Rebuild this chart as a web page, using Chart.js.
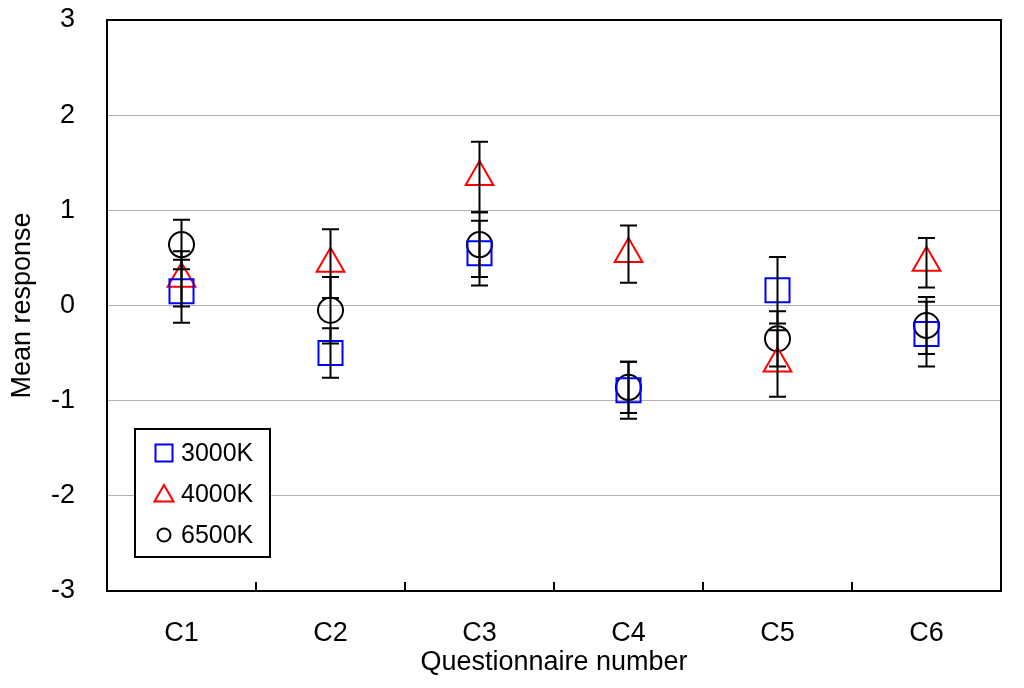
<!DOCTYPE html>
<html><head><meta charset="utf-8">
<script src="https://cdn.jsdelivr.net/npm/chart.js@4/dist/chart.umd.min.js"></script>
<style>html,body{margin:0;padding:0;background:#fff}#wrap{width:1024px;height:688px;position:relative}</style>
</head><body><div id="wrap"><canvas id="c"></canvas></div>
<script>
const categories = ['C1','C2','C3','C4','C5','C6'];
const yTicks = [-3,-2,-1,0,1,2,3];
const seriesNames = ['3000K','4000K','6500K'];
const mean3000 = [0.15,-0.50,0.55,-0.89,0.16,-0.30];
const err3000  = [0.33,0.26,0.34,0.30,0.35,0.34];
const mean4000 = [0.28,0.44,1.35,0.54,-0.61,0.45];
const err4000  = [0.29,0.36,0.37,0.30,0.35,0.26];
const mean6500 = [0.64,-0.05,0.64,-0.86,-0.35,-0.21];
const err6500  = [0.26,0.35,0.34,0.27,0.29,0.30];

const FONT = "'Liberation Sans', Arial, sans-serif";
const styles = [
  {color:'#0000ff', pointStyle:'rect', radius:17, legendRadius:12},
  {color:'#ff0000', pointStyle:'triangle', radius:16, legendRadius:11},
  {color:'#000000', pointStyle:'circle', radius:12.5, legendRadius:6.5}
];
const means = [mean3000, mean4000, mean6500];
const errs = [err3000, err4000, err6500];

const datasets = seriesNames.map((n,i)=>({
  label:n, data:means[i], errors:errs[i],
  showLine:false, pointStyle:styles[i].pointStyle, pointRadius:styles[i].radius,
  pointHoverRadius:styles[i].radius,
  pointBorderColor:styles[i].color, pointBackgroundColor:'rgba(0,0,0,0)', pointBorderWidth:2,
  borderColor:styles[i].color, backgroundColor:'rgba(0,0,0,0)'
}));

const errBars = {id:'errBars', afterDatasetsDraw(chart){
  const ctx=chart.ctx, ys=chart.scales.y;
  ctx.save(); ctx.strokeStyle='#000'; ctx.lineWidth=2;
  chart.data.datasets.forEach((ds,i)=>{
    chart.getDatasetMeta(i).data.forEach((pt,j)=>{
      const m=ds.data[j], e=ds.errors[j], x=pt.x;
      const y1=ys.getPixelForValue(m+e), y2=ys.getPixelForValue(m-e);
      ctx.beginPath();
      ctx.moveTo(x,y1); ctx.lineTo(x,y2);
      ctx.moveTo(x-8.5,y1); ctx.lineTo(x+8.5,y1);
      ctx.moveTo(x-8.5,y2); ctx.lineTo(x+8.5,y2);
      ctx.stroke();
    });
  });
  ctx.restore();
}};

const frame = {id:'frame', afterDraw(chart){
  const ctx=chart.ctx, a=chart.chartArea, xs=chart.scales.x;
  ctx.save();
  ctx.strokeStyle='#000'; ctx.lineWidth=2;
  ctx.strokeRect(a.left, a.top, a.right-a.left, a.bottom-a.top);
  ctx.beginPath();
  for(let k=0;k<categories.length-1;k++){
    const x=(xs.getPixelForValue(k)+xs.getPixelForValue(k+1))/2;
    ctx.moveTo(x,a.bottom); ctx.lineTo(x,a.bottom-9);
  }
  ctx.stroke();
  const lx=a.left+28, ly=a.bottom-162, lw=135, lh=128;
  ctx.fillStyle='#fff'; ctx.fillRect(lx,ly,lw,lh);
  ctx.strokeRect(lx,ly,lw,lh);
  ctx.font='25px '+FONT; ctx.textBaseline='middle'; ctx.textAlign='left';
  seriesNames.forEach((n,i)=>{
    const cy=ly+24+i*41;
    ctx.strokeStyle=styles[i].color; ctx.fillStyle='rgba(0,0,0,0)'; ctx.lineWidth=2;
    Chart.helpers.drawPoint(ctx,{pointStyle:styles[i].pointStyle, radius:styles[i].legendRadius, rotation:0, borderWidth:2}, lx+29, cy + (i===1?2:0));
    ctx.fillStyle='#000';
    ctx.fillText(n, lx+46, cy+1);
  });
  ctx.restore();
}};

new Chart(document.getElementById('c'), {
  type:'line',
  data:{labels:categories, datasets},
  options:{
    responsive:true, maintainAspectRatio:false, animation:false,
    devicePixelRatio:1,
    layout:{padding:{left:0,right:23,top:20,bottom:0}},
    plugins:{legend:{display:false}, tooltip:{enabled:false}},
    scales:{
      x:{type:'category', offset:true,
        grid:{display:false, drawTicks:false},
        border:{display:false},
        ticks:{color:'#000', font:{family:FONT,size:27}, padding:26},
        title:{display:true, text:'Questionnaire number', color:'#000', font:{family:FONT,size:27}, padding:{top:2,bottom:9}},
        afterFit(s){ s.height=97; s.paddingLeft=0; s.paddingRight=0; }
      },
      y:{min:-3, max:3,
        afterBuildTicks(s){ s.ticks = yTicks.map(v=>({value:v})); },
        grid:{color:'#b0b0b0', lineWidth:1, drawTicks:false},
        border:{display:false},
        ticks:{color:'#000', font:{family:FONT,size:27}, padding:32},
        title:{display:true, text:'Mean response', color:'#000', font:{family:FONT,size:27}, padding:{top:6,bottom:2}},
        afterFit(s){ s.width=107; s.paddingTop=0; s.paddingBottom=0; }
      }
    }
  },
  plugins:[errBars, frame]
});
</script></body></html>
